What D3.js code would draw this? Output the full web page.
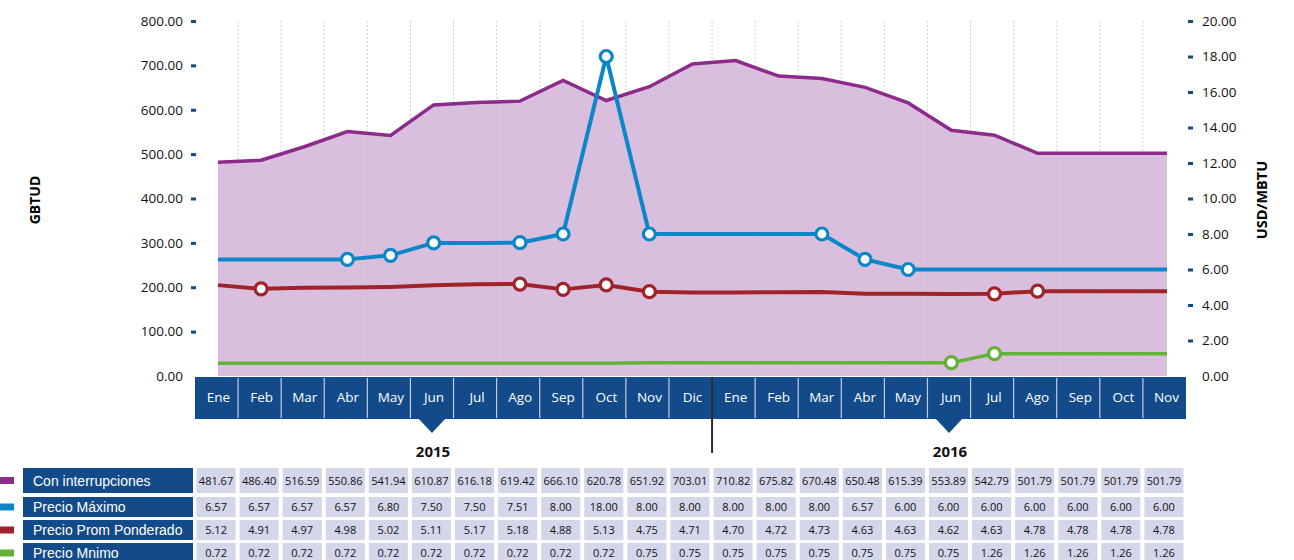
<!DOCTYPE html>
<html>
<head>
<meta charset="utf-8">
<script src="https://cdn.jsdelivr.net/npm/d3@7"></script>
<style>
  body { margin: 0; background: #fff; }
  svg { display: block; font-family: "Open Sans", sans-serif; }
</style>
</head>
<body>
<div id="chart"></div>
<script>
// ---- data ----
var months = ["Ene","Feb","Mar","Abr","May","Jun","Jul","Ago","Sep","Oct","Nov","Dic",
              "Ene","Feb","Mar","Abr","May","Jun","Jul","Ago","Sep","Oct","Nov"];
var years = [{label: "2015", month: 5}, {label: "2016", month: 17}];

var conInterrupciones = [481.67, 486.40, 516.59, 550.86, 541.94, 610.87, 616.18, 619.42, 666.10, 620.78, 651.92, 703.01,
                         710.82, 675.82, 670.48, 650.48, 615.39, 553.89, 542.79, 501.79, 501.79, 501.79, 501.79];
var precioMaximo = [6.57, 6.57, 6.57, 6.57, 6.80, 7.50, 7.50, 7.51, 8.00, 18.00, 8.00, 8.00,
                    8.00, 8.00, 8.00, 6.57, 6.00, 6.00, 6.00, 6.00, 6.00, 6.00, 6.00];
var precioProm = [5.12, 4.91, 4.97, 4.98, 5.02, 5.11, 5.17, 5.18, 4.88, 5.13, 4.75, 4.71,
                  4.70, 4.72, 4.73, 4.63, 4.63, 4.62, 4.63, 4.78, 4.78, 4.78, 4.78];
var precioMinimo = [0.72, 0.72, 0.72, 0.72, 0.72, 0.72, 0.72, 0.72, 0.72, 0.72, 0.75, 0.75,
                    0.75, 0.75, 0.75, 0.75, 0.75, 0.75, 1.26, 1.26, 1.26, 1.26, 1.26];

// months that carry a marker on each line
var markersMaximo = [3, 4, 5, 7, 8, 9, 10, 14, 15, 16];
var markersProm = [1, 7, 8, 9, 10, 18, 19];
var markersMinimo = [17, 18];

var leftTicks = [0, 100, 200, 300, 400, 500, 600, 700, 800];
var rightTicks = [0, 2, 4, 6, 8, 10, 12, 14, 16, 18, 20];

var rows = [
  {name: "Con interrupciones", values: conInterrupciones, color: "#8d2a8b"},
  {name: "Precio Máximo", values: precioMaximo, color: "#0b87c9"},
  {name: "Precio Prom Ponderado", values: precioProm, color: "#a0232a"},
  {name: "Precio Mnimo", values: precioMinimo, color: "#62b233"}
];

var svgWidth = 1294, svgHeight = 560;
var blue = "#134a8a";

var svg = d3.select("#chart").append("svg")
  .attr("width", svgWidth)
  .attr("height", svgHeight);

var idx = d3.range(months.length);

// band scale for the month strip and table, point scale for the lines
var xBand = d3.scaleBand().domain(idx).range([195, 1186]).padding(0);
var xPoint = d3.scalePoint().domain(idx).range([218, 1167]);

var yLeft = d3.scaleLinear().domain([0, 800]).range([376, 21]);
var yRight = d3.scaleLinear().domain([0, 20]).range([376, 21]);

// ---- area for "Con interrupciones" ----
var area = d3.area()
  .x((d, i) => xPoint(i))
  .y0(yLeft(0))
  .y1(d => yLeft(d));

svg.append("path")
  .datum(conInterrupciones)
  .attr("d", area)
  .attr("fill", "#d9bfdd");

// dotted vertical grid at month boundaries
svg.append("g").selectAll("line")
  .data(idx.slice(1))
  .enter()
  .append("line")
  .attr("x1", d => xBand(d))
  .attr("x2", d => xBand(d))
  .attr("y1", 21)
  .attr("y2", 376)
  .attr("stroke", "#c9c2cc")
  .attr("stroke-width", 1)
  .attr("stroke-dasharray", "2,2")
  .attr("opacity", 0.8);

// ---- lines ----
var lineLeft = d3.line().x((d, i) => xPoint(i)).y(d => yLeft(d));
var lineRight = d3.line().x((d, i) => xPoint(i)).y(d => yRight(d));

svg.append("path")
  .datum(conInterrupciones)
  .attr("d", lineLeft)
  .attr("fill", "none")
  .attr("stroke", rows[0].color)
  .attr("stroke-width", 3.5);

function drawSeries(values, marks, color, width) {
  svg.append("path")
    .datum(values)
    .attr("d", lineRight)
    .attr("fill", "none")
    .attr("stroke", color)
    .attr("stroke-width", width)
    .attr("stroke-linejoin", "round");

  svg.append("g").selectAll("circle")
    .data(marks)
    .enter()
    .append("circle")
    .attr("cx", i => xPoint(i))
    .attr("cy", i => yRight(values[i]))
    .attr("r", 6)
    .attr("fill", "#fff")
    .attr("stroke", color)
    .attr("stroke-width", 3.2);
}

drawSeries(precioMaximo, markersMaximo, rows[1].color, 4);
drawSeries(precioProm, markersProm, rows[2].color, 4);
drawSeries(precioMinimo, markersMinimo, rows[3].color, 3.5);

// ---- axes ----
var leftAxis = svg.append("g")
  .attr("transform", "translate(196,0)")
  .call(d3.axisLeft(yLeft).tickValues(leftTicks).tickFormat(d3.format(".2f")).tickSize(5).tickPadding(8));

var rightAxis = svg.append("g")
  .attr("transform", "translate(1188,0)")
  .call(d3.axisRight(yRight).tickValues(rightTicks).tickFormat(d3.format(".2f")).tickSize(5).tickPadding(9));

[leftAxis, rightAxis].forEach(ax => {
  ax.select(".domain").remove();
  ax.selectAll(".tick line")
    .attr("stroke", blue)
    .attr("stroke-width", 3)
    .attr("opacity", d => d === 0 ? 0 : 1);
  ax.selectAll(".tick text")
    .attr("font-family", "Open Sans, sans-serif")
    .attr("font-size", "13.5px")
    .attr("fill", "#111");
});

svg.append("text")
  .attr("transform", "translate(40,200) rotate(-90)")
  .attr("text-anchor", "middle")
  .attr("font-size", "14px")
  .attr("font-weight", "700")
  .text("GBTUD");

svg.append("text")
  .attr("transform", "translate(1267,200) rotate(-90)")
  .attr("text-anchor", "middle")
  .attr("font-size", "14.5px")
  .attr("font-weight", "700")
  .text("USD/MBTU");

// ---- month strip ----
var strip = svg.append("g");

strip.append("rect")
  .attr("x", xBand.range()[0])
  .attr("y", 377)
  .attr("width", xBand.range()[1] - xBand.range()[0])
  .attr("height", 42)
  .attr("fill", blue);

strip.selectAll("path.tri")
  .data(years)
  .enter()
  .append("path")
  .attr("class", "tri")
  .attr("d", d => {
    var cx = xBand(d.month) + xBand.bandwidth() / 2;
    return `M${cx - 14},418 L${cx + 14},418 L${cx},433 Z`;
  })
  .attr("fill", blue);

strip.selectAll("line.sep")
  .data(idx.slice(1))
  .enter()
  .append("line")
  .attr("class", "sep")
  .attr("x1", d => xBand(d))
  .attr("x2", d => xBand(d))
  .attr("y1", 378)
  .attr("y2", 418)
  .attr("stroke", "#c3cfe2")
  .attr("stroke-width", 1.2);

strip.selectAll("text.month")
  .data(idx)
  .enter()
  .append("text")
  .attr("class", "month")
  .attr("x", i => xBand(i) + xBand.bandwidth() / 2 + 2)
  .attr("y", 402)
  .attr("text-anchor", "middle")
  .attr("font-size", "13.5px")
  .attr("fill", "#fff")
  .text(i => months[i]);

strip.selectAll("text.year")
  .data(years)
  .enter()
  .append("text")
  .attr("class", "year")
  .attr("x", d => xBand(d.month) + xBand.bandwidth() / 2 + 1)
  .attr("y", 457)
  .attr("text-anchor", "middle")
  .attr("font-size", "15px")
  .attr("font-weight", "700")
  .attr("fill", "#111")
  .text(d => d.label);

// year separator
svg.append("line")
  .attr("x1", xBand(12))
  .attr("x2", xBand(12))
  .attr("y1", 377)
  .attr("y2", 453)
  .attr("stroke", "#2a2a2a")
  .attr("stroke-width", 2);

// ---- data table ----
var rowTop = [468, 497, 520, 543];
var rowH = [25, 20, 20, 20];

var table = svg.append("g");

rows.forEach((r, k) => {
  var y0 = rowTop[k], h = rowH[k], cy = y0 + h / 2;

  table.append("rect")
    .attr("x", 0).attr("y", cy - 3.5)
    .attr("width", 14).attr("height", 7)
    .attr("fill", r.color);

  table.append("rect")
    .attr("x", 23).attr("y", y0)
    .attr("width", 170).attr("height", h)
    .attr("fill", blue);

  table.append("text")
    .attr("x", 33).attr("y", cy)
    .attr("dy", "0.36em")
    .attr("font-family", "Liberation Sans, Arial, sans-serif")
    .attr("font-size", "14px")
    .attr("fill", "#fff")
    .text(r.name);

  table.append("g").selectAll("rect")
    .data(r.values)
    .enter()
    .append("rect")
    .attr("x", (d, i) => xBand(i) + 1.5)
    .attr("y", y0)
    .attr("width", xBand.bandwidth() - 4)
    .attr("height", h)
    .attr("fill", "#d4d6ea");

  table.append("g").selectAll("text")
    .data(r.values)
    .enter()
    .append("text")
    .attr("x", (d, i) => xBand(i) + xBand.bandwidth() / 2 - 0.5)
    .attr("y", cy + (k === 0 ? 1 : 0))
    .attr("dy", "0.36em")
    .attr("text-anchor", "middle")
    .attr("font-size", "11px")
    .attr("fill", "#111")
    .text(d => d3.format(".2f")(d));
});
</script>
</body>
</html>
